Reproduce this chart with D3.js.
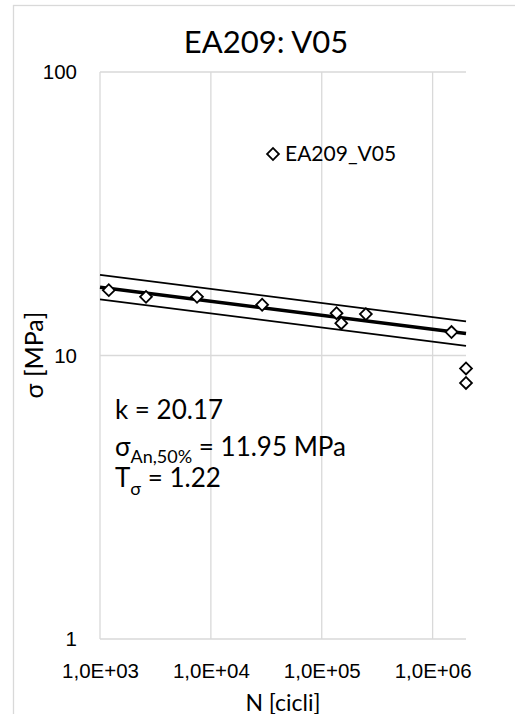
<html>
<head>
<script src="https://cdnjs.cloudflare.com/ajax/libs/d3/7.8.5/d3.min.js"></script>
<style>
  body { margin: 0; background: #fff; }
  svg { font-family: Lato, "Open Sans", sans-serif; }
  .grid line { stroke: #d9d9d9; stroke-width: 1.3; }
  .tick text { font-size: 20.5px; fill: #000; }
</style>
</head>
<body>
<div id="chart"></div>
<script>
// test points
let nCycles = [1.2e3, 2.6e3, 7.5e3, 2.9e4, 1.36e5, 1.5e5, 2.5e5, 1.48e6, 2e6, 2e6];
let stress  = [17.0, 16.1, 16.1, 15.1, 14.1, 13.0, 14.0, 12.1, 9.0, 8.0];

// fit parameters shown in the chart
let k = 20.17;
let sigmaA = 11.95;
let nRef = 2e6;
let tSigma = 1.22;

let xTicks = [1e3, 1e4, 1e5, 1e6];
let yTicks = [1, 10, 100];
let lineN = [1e3, 2e6];

let W = 515, H = 714;
let margin = {top: 72, left: 100, right: 49, bottom: 75};

let svg = d3.select('#chart').append('svg')
  .attr('width', W).attr('height', H);

// outer chart frame
svg.append('rect')
  .attr('x', 13.5).attr('y', 5.5)
  .attr('width', 520).attr('height', 740)
  .attr('fill', 'none').attr('stroke', '#d9d9d9').attr('stroke-width', 1.3);

let x = d3.scaleLog().domain([1e3, 2e6]).range([margin.left, W - margin.right]);
let y = d3.scaleLog().domain([1, 100]).range([H - margin.bottom, margin.top]);

// grid
let grid = svg.append('g').attr('class', 'grid');
grid.selectAll('.gx').data(xTicks).enter().append('line')
  .attr('x1', d => x(d)).attr('x2', d => x(d))
  .attr('y1', y(1)).attr('y2', y(100));
grid.selectAll('.gy').data(yTicks).enter().append('line')
  .attr('x1', x(1e3)).attr('x2', x(2e6))
  .attr('y1', d => y(d)).attr('y2', d => y(d));

// axes (labels only)
let xAxis = d3.axisBottom(x).tickValues(xTicks).tickSize(0).tickPadding(24)
  .tickFormat(d => '1,0E+0' + Math.round(Math.log10(d)));
svg.append('g').attr('transform', 'translate(0,' + y(1) + ')').call(xAxis)
  .call(g => g.select('.domain').remove());

let yAxis = d3.axisLeft(y).tickValues(yTicks).tickSize(0).tickPadding(23)
  .tickFormat(d3.format('d'));
svg.append('g').attr('transform', 'translate(' + x(1e3) + ',0)').call(yAxis)
  .call(g => g.select('.domain').remove());

// fit lines
let fit = n => sigmaA * Math.pow(n / nRef, -1 / k);
let line = d3.line().x(d => x(d[0])).y(d => y(d[1]));
let bands = [
  {f: Math.sqrt(tSigma), w: 1.7},
  {f: 1 / Math.sqrt(tSigma), w: 1.7},
  {f: 1, w: 3.6}
];
bands.forEach(b => {
  svg.append('path')
    .attr('d', line(lineN.map(n => [n, fit(n) * b.f])))
    .attr('fill', 'none').attr('stroke', '#000').attr('stroke-width', b.w);
});

// points
let diamond = d3.symbol().type(d3.symbolSquare).size(70);
svg.append('g').selectAll('path').data(nCycles).enter().append('path')
  .attr('d', diamond)
  .attr('transform', (d, i) => 'translate(' + x(d) + ',' + y(stress[i]) + ') rotate(45)')
  .attr('fill', '#fff').attr('stroke', '#000').attr('stroke-width', 1.8);

// legend
svg.append('path').attr('d', diamond)
  .attr('transform', 'translate(273,154) rotate(45)')
  .attr('fill', '#fff').attr('stroke', '#000').attr('stroke-width', 1.8);
svg.append('text').attr('x', 285).attr('y', 161)
  .attr('font-size', 21).text('EA209_V05');

// title
svg.append('text').attr('x', 266).attr('y', 53).attr('text-anchor', 'middle')
  .attr('font-size', 31).text('EA209: V05');

// axis titles
svg.append('text').attr('x', 283).attr('y', 711).attr('text-anchor', 'middle')
  .attr('font-size', 23).text('N [cicli]');
svg.append('text').attr('transform', 'translate(43,355) rotate(-90)')
  .attr('text-anchor', 'middle').attr('font-size', 25).text('σ [MPa]');

// annotation
let ann = svg.append('g').attr('font-size', 26);
ann.append('text').attr('x', 115).attr('y', 419).text('k = 20.17');
let t2 = ann.append('text').attr('x', 115).attr('y', 456);
t2.append('tspan').text('σ');
t2.append('tspan').attr('font-size', 18).attr('dy', 7).text('An,50%');
t2.append('tspan').attr('dy', -7).text(' = 11.95 MPa');
let t3 = ann.append('text').attr('x', 115).attr('y', 487);
t3.append('tspan').text('T');
t3.append('tspan').attr('font-size', 18).attr('dy', 8).text('σ');
t3.append('tspan').attr('dy', -8).text(' = 1.22');
</script>
</body>
</html>
